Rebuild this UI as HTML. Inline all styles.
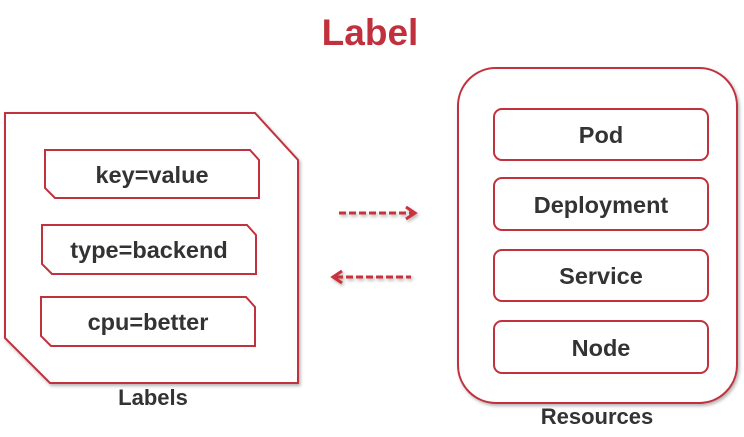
<!DOCTYPE html>
<html><head><meta charset="utf-8"><style>
body{margin:0;background:#fff;width:744px;height:432px;overflow:hidden}
text{font-family:"Liberation Sans",sans-serif;font-weight:bold;fill:#333}
</style></head><body>
<svg width="744" height="432" viewBox="0 0 744 432">
<defs><filter id="s" x="-10%" y="-10%" width="130%" height="130%"><feDropShadow dx="1.5" dy="2" stdDeviation="1.5" flood-color="#000" flood-opacity="0.3"/></filter></defs>
<text x="370" y="45" text-anchor="middle" font-size="37" style="fill:#c1313d">Label</text>
<g fill="#fff" stroke="#c0303c" stroke-width="2" filter="url(#s)">
<polygon points="5,113 255,113 298,160 298,383 50,383 5,338"/>
<polygon points="45,150 250,150 259,160 259,198 55,198 45,188"/>
<polygon points="42,225 247,225 256,235 256,274 52,274 42,264"/>
<polygon points="41,297 246,297 255,307 255,346 51,346 41,336"/>
<rect x="458" y="68" width="279" height="335" rx="38"/>
<rect x="494" y="109" width="214" height="51" rx="8"/>
<rect x="494" y="178" width="214" height="52" rx="8"/>
<rect x="494" y="250" width="214" height="51" rx="8"/>
<rect x="494" y="321" width="214" height="52" rx="8"/>
</g>
<g font-size="23.5" text-anchor="middle">
<text x="152" y="183">key=value</text>
<text x="149" y="258">type=backend</text>
<text x="148" y="330">cpu=better</text>
<text x="601" y="143">Pod</text>
<text x="601" y="213">Deployment</text>
<text x="601" y="284">Service</text>
<text x="601" y="356">Node</text>
<text x="153" y="405" font-size="22">Labels</text>
<text x="597" y="424" font-size="22">Resources</text>
</g>
<g stroke="#c8303c" stroke-width="3" fill="none" filter="url(#s)">
<line x1="339" y1="213" x2="413" y2="213" stroke-dasharray="7,3"/>
<polyline points="406,207 415,213 406,219" stroke-width="3"/>
<line x1="336" y1="277" x2="411" y2="277" stroke-dasharray="7,3"/>
<polyline points="342,271 333,277 342,283" stroke-width="3"/>
</g>
</svg>
</body></html>
